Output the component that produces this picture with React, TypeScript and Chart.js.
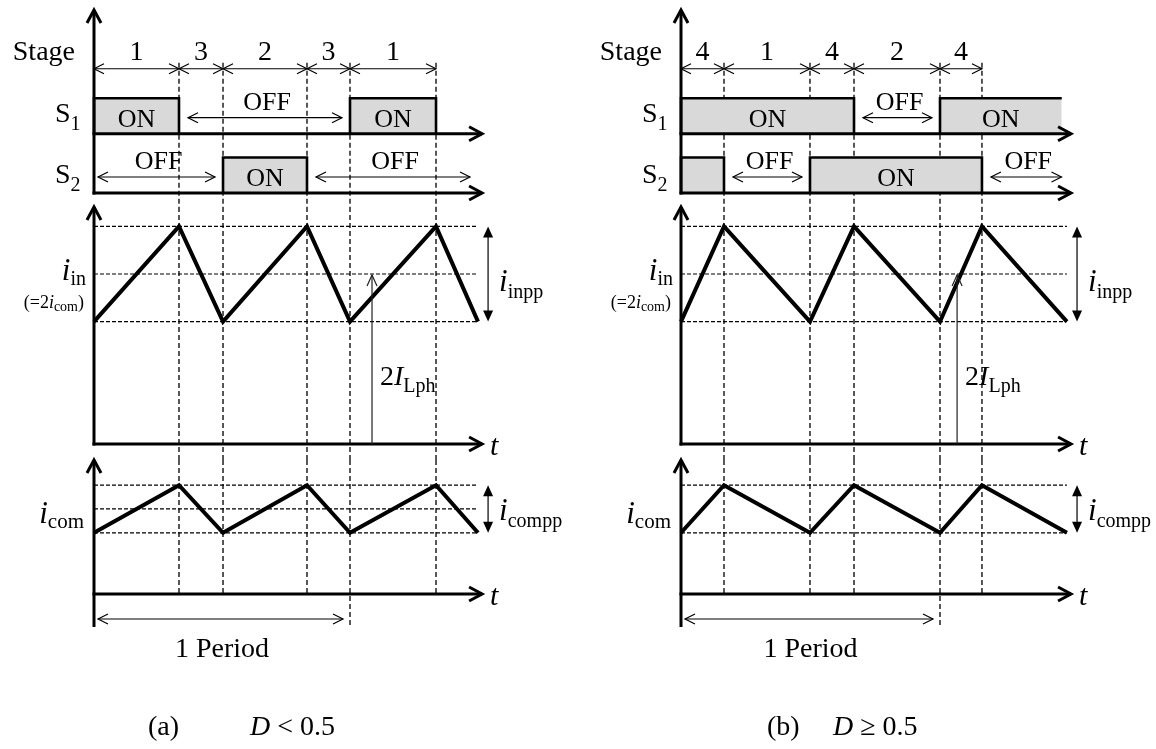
import React, { useEffect, useRef } from "react";
import { Chart, registerables } from "chart.js";
Chart.register(...registerables);

// ================= DATA =================
// switching instants, in units of one switching period
const timesA = [0, 0.332, 0.504, 0.832, 1.0, 1.336, 1.5];
const timesB = [0, 0.166, 0.498, 0.668, 1.0, 1.162, 1.49];
const stageLabelsA = ["1", "3", "2", "3", "1"];
const stageLabelsB = ["4", "1", "4", "2", "4"];
// ON intervals of the switches
const s1OnA = [[0, 0.332], [1.0, 1.336]];
const s2OnA = [[0.504, 0.832]];
const s1OnB = [[0, 0.668], [1.0, 1.47]];
const s2OnB = [[0, 0.166], [0.498, 1.162]];
// ON intervals that stay open at the right edge
const s1OpenA = [false, false];
const s2OpenA = [false];
const s1OpenB = [false, true];
const s2OpenB = [false, false];
// intervals marked "OFF"
const s1OffA = [[0.332, 1.0]];
const s2OffA = [[0, 0.504], [0.832, 1.5]];
const s1OffB = [[0.668, 1.0]];
const s2OffB = [[0.166, 0.498], [1.162, 1.5]];
// currents (arbitrary units) at the switching instants
const inCurrentA = [7.2, 12.8, 7.2, 12.8, 7.2, 12.8, 7.2];
const comCurrentA = [3.6, 6.4, 3.6, 6.4, 3.6, 6.4, 3.6];
const inCurrentB = [7.2, 12.8, 7.2, 12.8, 7.2, 12.8, 7.2];
const comCurrentB = [3.6, 6.4, 3.6, 6.4, 3.6, 6.4, 3.6];
// dashed reference levels
const inRefLevels = [12.8, 10, 7.2];
const comRefLevelsA = [6.4, 5, 3.6];
const comRefLevelsB = [6.4, 3.6];
const inAverage = 10; // 2 I_Lph
const lphMarkerA = 1.086;
const lphMarkerB = 1.066;

// ================= LAYOUT =================
const W = 1156;
const H = 749;
const FONT = '"Liberation Serif","Times New Roman",Times,serif';
const S2_BASE = 0, S2_HIGH = 1, S1_BASE = 1.67, S1_HIGH = 2.67, STAGE_ROW = 3.5;
const PANEL_SW = { top: 10, bottom: 193, yMax: 5.155 };
const PANEL_IN = { top: 207, bottom: 444, yMax: 13.94 };
const PANEL_COM = { top: 460, bottom: 594, yMax: 7.88 };

type Part = { t: string; size: number; italic?: boolean; dy?: number };

const SIDES = [
  {
    left: 94, periodPx: 256, xMax: 1.516,
    times: timesA, stages: stageLabelsA,
    s1On: s1OnA, s2On: s2OnA, s1Open: s1OpenA, s2Open: s2OpenA,
    s1Off: s1OffA, s2Off: s2OffA,
    inCur: inCurrentA, comCur: comCurrentA, comRefs: comRefLevelsA, lph: lphMarkerA,
    caption: [
      { dx: 54, parts: [{ t: "(a)", size: 28 }] as Part[] },
      { dx: 156, parts: [{ t: "D", size: 28, italic: true }, { t: " < 0.5", size: 28 }] as Part[] },
    ],
  },
  {
    left: 681, periodPx: 259, xMax: 1.506,
    times: timesB, stages: stageLabelsB,
    s1On: s1OnB, s2On: s2OnB, s1Open: s1OpenB, s2Open: s2OpenB,
    s1Off: s1OffB, s2Off: s2OffB,
    inCur: inCurrentB, comCur: comCurrentB, comRefs: comRefLevelsB, lph: lphMarkerB,
    caption: [
      { dx: 86, parts: [{ t: "(b)", size: 28 }] as Part[] },
      { dx: 152, parts: [{ t: "D", size: 28, italic: true }, { t: " \u2265 0.5", size: 28 }] as Part[] },
    ],
  },
];

// ================= DRAW HELPERS =================
const font = (size: number, italic = false) => `${italic ? "italic " : ""}${size}px ${FONT}`;

function seg(ctx: CanvasRenderingContext2D, x1: number, y1: number, x2: number, y2: number, w: number, color = "#000", dash: number[] = []) {
  ctx.save();
  ctx.beginPath();
  ctx.setLineDash(dash);
  ctx.lineWidth = w;
  ctx.strokeStyle = color;
  ctx.lineCap = "butt";
  ctx.moveTo(x1, y1);
  ctx.lineTo(x2, y2);
  ctx.stroke();
  ctx.restore();
}

function head(ctx: CanvasRenderingContext2D, tx: number, ty: number, dx: number, dy: number, len: number, half: number, w: number, filled = false, color = "#000") {
  const bx = tx - dx * len, by = ty - dy * len;
  const px = -dy, py = dx;
  ctx.save();
  ctx.setLineDash([]);
  ctx.beginPath();
  ctx.moveTo(bx + px * half, by + py * half);
  ctx.lineTo(tx, ty);
  ctx.lineTo(bx - px * half, by - py * half);
  if (filled) {
    ctx.closePath();
    ctx.fillStyle = color;
    ctx.fill();
  } else {
    ctx.lineWidth = w;
    ctx.strokeStyle = color;
    ctx.lineJoin = "miter";
    ctx.stroke();
  }
  ctx.restore();
}

function hArrow2(ctx: CanvasRenderingContext2D, x1: number, x2: number, y: number, w = 1.2, len = 10, half = 5) {
  seg(ctx, x1, y, x2, y, w);
  head(ctx, x1, y, -1, 0, len, half, w);
  head(ctx, x2, y, 1, 0, len, half, w);
}

function rich(ctx: CanvasRenderingContext2D, parts: Part[], x: number, y: number, align: "left" | "center" | "right") {
  ctx.save();
  ctx.fillStyle = "#000";
  ctx.textBaseline = "alphabetic";
  ctx.textAlign = "left";
  const widths = parts.map((p) => {
    ctx.font = font(p.size, p.italic);
    return ctx.measureText(p.t).width;
  });
  const total = widths.reduce((a, b) => a + b, 0);
  let cx = align === "left" ? x : align === "center" ? x - total / 2 : x - total;
  parts.forEach((p, i) => {
    ctx.font = font(p.size, p.italic);
    ctx.fillText(p.t, cx, y + (p.dy || 0));
    cx += widths[i];
  });
  ctx.restore();
}

function dashedVerticals(chart: any, side: any, yFrom: number, yTo: number, periodExtra = 0) {
  const { ctx, scales } = chart;
  for (let i = 1; i <= 5; i++) {
    const t = side.times[i];
    const xp = scales.x.getPixelForValue(t);
    seg(ctx, xp, yFrom, xp, yTo + (t === 1 ? periodExtra : 0), 1.3, "#000", [5, 3]);
  }
}

function axes(chart: any, yAxisBottom: number, hLines: number[]) {
  const { ctx, chartArea: ca } = chart;
  const L = ca.left, R = ca.right;
  seg(ctx, L, yAxisBottom, L, ca.top, 3);
  head(ctx, L, ca.top, 0, -1, 13, 7, 3);
  hLines.forEach((yy) => {
    seg(ctx, L - 1.5, yy, R, yy, 3);
    head(ctx, R, yy, 1, 0, 13, 7, 3);
  });
}

// ================= CHART BUILDERS =================
function baseOptions(side: any, panel: any) {
  const right = side.left + side.xMax * side.periodPx;
  return {
    responsive: false,
    animation: false,
    events: [],
    layout: { autoPadding: false, padding: { left: side.left, right: W - right, top: panel.top, bottom: H - panel.bottom } },
    scales: {
      x: { type: "linear", min: 0, max: side.xMax, display: false },
      y: { type: "linear", min: 0, max: panel.yMax, display: false },
    },
    plugins: { legend: { display: false }, tooltip: { enabled: false } },
  };
}

function boxDatasets(intervals: number[][], open: boolean[], base: number, high: number) {
  return intervals.map(([a, b], i) => {
    const pts = [{ x: a, y: base }, { x: a, y: high }, { x: b, y: high }];
    if (!open[i]) pts.push({ x: b, y: base });
    return {
      data: pts,
      showLine: true,
      borderColor: "#000",
      borderWidth: 2.6,
      backgroundColor: "#d9d9d9",
      fill: { value: base },
      pointRadius: 0,
      tension: 0,
      borderJoinStyle: "miter",
      clip: false,
    };
  });
}

function lineDataset(xs: number[], ys: number[], width: number, dash: number[] = []) {
  return {
    data: xs.map((x, i) => ({ x, y: ys[i] })),
    showLine: true,
    borderColor: "#000",
    borderWidth: width,
    borderDash: dash,
    borderJoinStyle: "miter",
    pointRadius: 0,
    tension: 0,
    fill: false,
    clip: false,
  };
}

function switchConfig(side: any) {
  const plugin = {
    id: "swDeco",
    beforeDatasetsDraw(chart: any) {
      const ys = chart.scales.y.getPixelForValue(STAGE_ROW);
      dashedVerticals(chart, side, ys - 6, PANEL_IN.top);
    },
    afterDatasetsDraw(chart: any) {
      const { ctx, chartArea: ca, scales } = chart;
      const X = (t: number) => scales.x.getPixelForValue(t);
      const Y = (v: number) => scales.y.getPixelForValue(v);
      const L = ca.left;
      const yS1 = Y(S1_BASE), yS2 = Y(S2_BASE), yStage = Y(STAGE_ROW);
      axes(chart, yS2 + 1.5, [yS1, yS2]);
      // stages
      side.stages.forEach((lab: string, i: number) => {
        const x1 = X(side.times[i]), x2 = X(side.times[i + 1]);
        hArrow2(ctx, x1, x2, yStage);
        rich(ctx, [{ t: lab, size: 28 }], (x1 + x2) / 2, yStage - 9, "center");
      });
      rich(ctx, [{ t: "Stage", size: 28 }], L - 19, yStage - 9, "right");
      rich(ctx, [{ t: "S", size: 28 }, { t: "1", size: 20, dy: 8 }], L - 39, yS1 - 12, "left");
      rich(ctx, [{ t: "S", size: 28 }, { t: "2", size: 20, dy: 8 }], L - 39, yS2 - 10, "left");
      // ON labels
      const onLab = (iv: number[][], base: number) => {
        iv.forEach(([a, b]) => {
          if (b - a < 0.2) return;
          rich(ctx, [{ t: "ON", size: 26 }], (X(a) + X(b)) / 2, Y(base) - 7, "center");
        });
      };
      onLab(side.s1On, S1_BASE);
      onLab(side.s2On, S2_BASE);
      // OFF arrows
      const offLab = (iv: number[][], base: number) => {
        iv.forEach(([a, b]) => {
          const xa = X(a) + (a === 0 ? 4 : 9);
          const xb = X(b) - 8;
          const yy = Y(base) - 16;
          hArrow2(ctx, xa, xb, yy);
          rich(ctx, [{ t: "OFF", size: 26 }], (xa + xb) / 2 + 2, yy - 8, "center");
        });
      };
      offLab(side.s1Off, S1_BASE);
      offLab(side.s2Off, S2_BASE);
    },
  };
  return {
    type: "scatter",
    data: {
      datasets: [
        ...boxDatasets(side.s1On, side.s1Open, S1_BASE, S1_HIGH),
        ...boxDatasets(side.s2On, side.s2Open, S2_BASE, S2_HIGH),
      ],
    },
    options: baseOptions(side, PANEL_SW),
    plugins: [plugin],
  };
}

function inConfig(side: any) {
  const tEnd = side.times[side.times.length - 1];
  const plugin = {
    id: "inDeco",
    beforeDatasetsDraw(chart: any) {
      dashedVerticals(chart, side, chart.chartArea.top, PANEL_COM.top);
    },
    afterDatasetsDraw(chart: any) {
      const { ctx, chartArea: ca, scales } = chart;
      const X = (t: number) => scales.x.getPixelForValue(t);
      const Y = (v: number) => scales.y.getPixelForValue(v);
      const L = ca.left, R = ca.right, B = ca.bottom;
      axes(chart, B + 1.5, [B]);
      rich(ctx, [{ t: "t", size: 30, italic: true }], R + 8, B + 11, "left");
      const yP = Y(Math.max(...side.inCur)), yV = Y(Math.min(...side.inCur)), yM = Y(inAverage);
      // peak-to-peak arrow
      const ax = R + 6;
      seg(ctx, ax, yP + 8, ax, yV - 8, 1.5, "#333");
      head(ctx, ax, yP, 0, -1, 11, 5, 1, true);
      head(ctx, ax, yV, 0, 1, 11, 5, 1, true);
      rich(ctx, [{ t: "i", size: 31, italic: true }, { t: "inpp", size: 20, dy: 7 }], ax + 11, yM + 17, "left");
      // 2 I_Lph marker
      const xl = X(side.lph);
      seg(ctx, xl, B, xl, Y(inAverage) + 1, 1.2, "#222");
      head(ctx, xl, Y(inAverage) + 1, 0, -1, 11, 5, 1.2, false, "#222");
      rich(ctx, [{ t: "2", size: 28 }, { t: "I", size: 28, italic: true }, { t: "Lph", size: 20, dy: 7 }], xl + 8, B - 59, "left");
      // left labels
      rich(ctx, [{ t: "i", size: 31, italic: true }, { t: "in", size: 20, dy: 5 }], L - 8, yM + 6, "right");
      rich(ctx, [{ t: "(=2", size: 18 }, { t: "i", size: 18, italic: true }, { t: "com", size: 14, dy: 3 }, { t: ")", size: 18 }], L - 10, yM + 34, "right");
    },
  };
  return {
    type: "scatter",
    data: {
      datasets: [
        lineDataset(side.times, side.inCur, 4),
        ...inRefLevels.map((v) => lineDataset([0, tEnd], [v, v], 1.2, [4, 2])),
      ],
    },
    options: baseOptions(side, PANEL_IN),
    plugins: [plugin],
  };
}

function comConfig(side: any) {
  const tEnd = side.times[side.times.length - 1];
  const plugin = {
    id: "comDeco",
    beforeDatasetsDraw(chart: any) {
      dashedVerticals(chart, side, chart.chartArea.top, chart.chartArea.bottom, 31);
    },
    afterDatasetsDraw(chart: any) {
      const { ctx, chartArea: ca, scales } = chart;
      const X = (t: number) => scales.x.getPixelForValue(t);
      const Y = (v: number) => scales.y.getPixelForValue(v);
      const L = ca.left, R = ca.right, B = ca.bottom;
      axes(chart, B + 33, [B]);
      rich(ctx, [{ t: "t", size: 30, italic: true }], R + 8, B + 11, "left");
      const yP = Y(Math.max(...side.comCur)), yV = Y(Math.min(...side.comCur));
      const yM = (yP + yV) / 2;
      const ax = R + 6;
      seg(ctx, ax, yP + 8, ax, yV - 8, 1.5, "#333");
      head(ctx, ax, yP, 0, -1, 11, 5, 1, true);
      head(ctx, ax, yV, 0, 1, 11, 5, 1, true);
      rich(ctx, [{ t: "i", size: 31, italic: true }, { t: "compp", size: 20, dy: 7 }], ax + 11, yM + 11, "left");
      rich(ctx, [{ t: "i", size: 31, italic: true }, { t: "com", size: 21, dy: 5 }], L - 10, yV - 10, "right");
      // period arrow
      const yPer = B + 25;
      hArrow2(ctx, X(0) + 4, X(1) - 7, yPer);
      rich(ctx, [{ t: "1 Period", size: 28 }], (X(0) + X(1)) / 2, B + 63, "center");
      // caption
      side.caption.forEach((c: any) => rich(ctx, c.parts, L + c.dx, 735, "left"));
    },
  };
  const refs = side.comRefs as number[];
  return {
    type: "scatter",
    data: {
      datasets: [
        lineDataset(side.times, side.comCur, 4),
        ...refs.map((v) => lineDataset([0, tEnd], [v, v], 1.2, [4, 2])),
      ],
    },
    options: baseOptions(side, PANEL_COM),
    plugins: [plugin],
  };
}

export default function App() {
  const refs = useRef<(HTMLCanvasElement | null)[]>([]);
  useEffect(() => {
    const charts: Chart[] = [];
    const configs: any[] = [];
    SIDES.forEach((side) => {
      configs.push(switchConfig(side), inConfig(side), comConfig(side));
    });
    configs.forEach((cfg, i) => {
      const c = refs.current[i];
      if (c) charts.push(new Chart(c, cfg));
    });
    return () => charts.forEach((c) => c.destroy());
  }, []);
  return (
    <div style={{ position: "fixed", left: 0, top: 0, width: W, height: H, background: "#fff" }}>
      {[0, 1, 2, 3, 4, 5].map((i) => (
        <canvas
          key={i}
          ref={(el) => {
            refs.current[i] = el;
          }}
          width={W}
          height={H}
          style={{ position: "absolute", left: 0, top: 0, width: W, height: H }}
        />
      ))}
    </div>
  );
}
